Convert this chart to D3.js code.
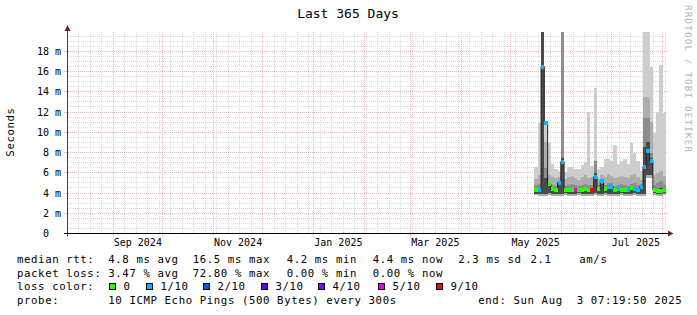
<!DOCTYPE html>
<html>
<head>
<meta charset="utf-8">
<script src="https://cdn.jsdelivr.net/npm/d3@7"></script>
<style>
  html, body { margin: 0; padding: 0; background: #fff; }
  svg { display: block; }
  text { font-family: "DejaVu Sans Mono", monospace; fill: #000; }
</style>
</head>
<body>
<svg id="chart" width="697" height="315"></svg>
<script>
// Time range of the graph (last 365 days).
var endTime = new Date(Date.UTC(2025, 7, 3, 7, 19, 50));
var startTime = d3.utcDay.offset(endTime, -365);

// Smoke data, one value per 2-day bin starting 15 May 2025 (ms).
var firstBin = new Date(Date.UTC(2025, 4, 15, 7, 19, 50));
var medianMs = [4.3, 4.3, 16.5, 10.9, 4.9, 4.4, 4.3, 5.0, 7.1, 4.3,
                4.3, 4.3, 4.3, 4.3, 4.3, 4.4, 4.3, 4.3, 5.6, 4.4,
                5.2, 4.4, 4.6, 4.6, 4.3, 4.4, 4.3, 4.3, 4.3, 4.5,
                4.4, 4.3, 4.6, 6.6, 8.2, 7.2, 4.3, 4.2, 4.2, 4.3];
var lossCount = [0, 1, 1, 1, 0, 0, 0, 1, 1, 0,
                 0, 0, 5, 0, 0, 0, 0, 9, 1, 0,
                 1, 0, 1, 1, 0, 1, 0, 0, 1, 0,
                 1, 1, 1, 1, 1, 1, 0, 0, 0, 0];
var smokeHi1 = [6.6, 10.9, 20, 11, 8.9, 6.9, 6.4, 6.2, 20, 6.1,
                6.6, 6.6, 6.4, 6.4, 6.8, 7.1, 12, 6.7, 14.4, 6.4,
                6.6, 7.4, 7.4, 7.2, 8.7, 6.9, 7.2, 7.4, 6.9, 8.9,
                8.0, 7.2, 6.2, 20, 20, 16.5, 9.9, 12, 16.6, 11.9];
var smokeHi2 = [5.4, 5.8, 20, 9, 5.8, 5.6, 5.5, 5.6, 20, 5.4,
                5.6, 5.7, 5.5, 5.3, 5.6, 5.8, 5.5, 5.6, 7.0, 5.4,
                5.8, 5.6, 5.9, 5.7, 5.5, 5.6, 5.7, 5.6, 5.5, 5.8,
                5.9, 5.6, 5.3, 13.5, 13.5, 11, 5.8, 6.0, 6.2, 5.7];
var smokeHi3 = [4.8, 4.9, 20, 6.5, 5.1, 4.8, 4.7, 5.1, 20, 4.7,
                4.8, 4.9, 4.8, 4.7, 4.8, 4.9, 4.8, 4.8, 7.2, 4.8,
                5.2, 4.8, 5.0, 5.0, 4.7, 4.8, 4.9, 4.8, 4.7, 4.9,
                5.0, 4.8, 4.9, 11.4, 11.4, 8.0, 4.8, 5.0, 5.2, 4.8];
var smokeHi4 = [4.45, 4.45, 20, 5.5, 4.9, 4.5, 4.45, 4.9, 7.5, 4.45,
                4.45, 4.45, 4.45, 4.4, 4.45, 4.55, 4.45, 4.45, 6.0, 4.5,
                4.9, 4.5, 4.7, 4.7, 4.45, 4.5, 4.45, 4.45, 4.45, 4.6,
                4.55, 4.45, 4.7, 8.5, 9.0, 7.5, 4.4, 4.4, 4.45, 4.4];
var smokeLo1 = [3.8, 3.75, 3.75, 3.75, 3.8, 3.75, 3.75, 3.75, 3.75, 3.8,
                3.75, 3.75, 3.75, 3.8, 3.75, 3.75, 3.75, 3.75, 3.8, 3.75,
                3.75, 3.8, 3.75, 3.75, 3.75, 3.75, 3.8, 3.75, 3.75, 3.75,
                3.8, 3.75, 3.75, 3.75, 5.5, 5.5, 3.8, 3.75, 3.75, 3.8];
var smokeLo2 = [3.95, 3.95, 3.95, 3.95, 4.0, 3.95, 3.95, 3.95, 3.95, 4.0,
                3.95, 3.95, 3.95, 4.0, 3.95, 3.95, 3.95, 3.95, 4.0, 3.95,
                3.95, 4.0, 3.95, 3.95, 3.95, 3.95, 4.0, 3.95, 3.95, 3.95,
                4.0, 3.95, 3.95, 3.95, 5.8, 5.8, 4.0, 3.95, 3.95, 4.0];

// Axis ticks.
var yMajorTicks = [0, 2, 4, 6, 8, 10, 12, 14, 16, 18];
var yTickLabels = ["0  ", "2 m", "4 m", "6 m", "8 m", "10 m", "12 m", "14 m", "16 m", "18 m"];
var monthLabels = ["Sep 2024", "Nov 2024", "Jan 2025", "Mar 2025", "May 2025", "Jul 2025"];

// Legend.
var rttStats = ["4.8 ms avg", "16.5 ms max", "4.2 ms min", "4.4 ms now", "2.3 ms sd", "2.1", "am/s"];
var lossStats = ["3.47 % avg", "72.80 % max", "0.00 % min", "0.00 % now"];
var lossSteps = [0, 1, 2, 3, 4, 5, 9];
var lossLabels = ["0", "1/10", "2/10", "3/10", "4/10", "5/10", "9/10"];
var lossColors = ["#26ff00", "#00b8ff", "#0059ff", "#5e00ff", "#7e00ff", "#dd00ff", "#ff0000"];
var probeText = "10 ICMP Echo Pings (500 Bytes) every 300s";
var endText = "end: Sun Aug  3 07:19:50 2025";

(function () {
  var svg = d3.select("#chart");
  var left = 66, right = 666, top = 32, bottom = 233.5;

  var x = d3.scaleUtc().domain([startTime, endTime]).range([left, right]);
  var y = d3.scaleLinear().domain([0, 19.91]).range([bottom, top]);
  var crisp = function (v) { return Math.floor(v) + 0.5; };

  // Title and side labels.
  svg.append("text").attr("x", 348).attr("y", 18).attr("text-anchor", "middle")
    .style("font-size", "13px").text("Last 365 Days");
  svg.append("text").attr("transform", "translate(14,132) rotate(-90)")
    .attr("text-anchor", "middle").style("font-size", "10.7px").style("letter-spacing", "0.6px")
    .text("Seconds");
  svg.append("text").attr("transform", "translate(685,5) rotate(90)")
    .style("font-size", "9.2px").style("letter-spacing", "1.2px").style("fill", "#b4b4b4")
    .text("RRDTOOL / TOBI OETIKER");

  // Grid.
  var grid = svg.append("g");
  var minorY = d3.range(0.5, 19.9, 0.5).filter(function (v) { return v % 2 !== 0; });
  grid.selectAll(".hminor").data(minorY).enter().append("line")
    .attr("x1", 67).attr("x2", right + 1)
    .attr("y1", d => crisp(y(d))).attr("y2", d => crisp(y(d)))
    .attr("stroke", "#dcdcdc").attr("stroke-dasharray", "1,1");
  var weeks = x.ticks(d3.utcSunday);
  grid.selectAll(".vminor").data(weeks).enter().append("line")
    .attr("x1", d => crisp(x(d))).attr("x2", d => crisp(x(d)))
    .attr("y1", top).attr("y2", bottom)
    .attr("stroke", "#dcdcdc").attr("stroke-dasharray", "1,1");
  grid.selectAll(".hmajor").data(yMajorTicks.slice(1)).enter().append("line")
    .attr("x1", 64).attr("x2", right + 1)
    .attr("y1", d => crisp(y(d))).attr("y2", d => crisp(y(d)))
    .attr("stroke", "#eeb8b8").attr("stroke-dasharray", "1,1");
  var months = x.ticks(d3.utcMonth);
  grid.selectAll(".vmajor").data(months).enter().append("line")
    .attr("x1", d => crisp(x(d))).attr("x2", d => crisp(x(d)))
    .attr("y1", top).attr("y2", bottom + 3)
    .attr("stroke", "#eeb8b8").attr("stroke-dasharray", "1,1");

  // Build bins.
  var bins = medianMs.map(function (m, i) {
    return {
      t: d3.utcDay.offset(firstBin, 2 * i), t2: d3.utcDay.offset(firstBin, 2 * i + 2),
      med: m, loss: lossCount[i],
      hi: [smokeHi1[i], smokeHi2[i], smokeHi3[i], smokeHi4[i]],
      lo: [smokeLo1[i], smokeLo1[i], smokeLo2[i], smokeLo2[i]]
    };
  });
  var last = bins[bins.length - 1];
  var stepData = bins.concat([Object.assign({}, last, { t: endTime })]);

  svg.append("clipPath").attr("id", "plotclip").append("rect")
    .attr("x", left).attr("y", top).attr("width", right - left).attr("height", bottom - top);
  var plot = svg.append("g").attr("clip-path", "url(#plotclip)");

  var smokeColors = ["#cdcdcd", "#adadad", "#8c8c8c", "#4a4a4a"];
  smokeColors.forEach(function (c, k) {
    var area = d3.area().curve(d3.curveStepAfter)
      .x(d => x(d.t)).y0(d => y(d.lo[k])).y1(d => y(d.hi[k]));
    plot.append("path").datum(stepData).attr("d", area)
      .attr("fill", c).attr("shape-rendering", "crispEdges");
  });

  var medLine = d3.line().curve(d3.curveStepAfter).x(d => x(d.t)).y(d => y(d.med));
  plot.append("path").datum(stepData).attr("d", medLine)
    .attr("fill", "none").attr("stroke", "#202020").attr("stroke-width", 1);

  function lossColor(l) {
    for (var k = 0; k < lossSteps.length; k++) if (l <= lossSteps[k]) return lossColors[k];
    return lossColors[lossColors.length - 1];
  }
  plot.selectAll(".med").data(bins).enter().append("rect")
    .attr("x", d => x(d.t)).attr("width", d => x(d.t2) - x(d.t))
    .attr("y", d => y(d.med) - 2).attr("height", 4)
    .attr("fill", d => lossColor(d.loss)).attr("shape-rendering", "crispEdges");

  // Axes.
  svg.append("line").attr("x1", 67.5).attr("x2", 67.5).attr("y1", bottom + 3).attr("y2", 30)
    .attr("stroke", "#404040");
  svg.append("line").attr("x1", 64).attr("x2", 668).attr("y1", bottom).attr("y2", bottom)
    .attr("stroke", "#000");
  svg.append("path").attr("d", "M668,230.5L673.5,233.5L668,236.5Z").attr("fill", "#7f1f1f");
  svg.append("path").attr("d", "M64.5,31L67.5,25L70.5,31Z").attr("fill", "#7f1f1f");

  svg.selectAll(".ylab").data(yMajorTicks).enter().append("text")
    .attr("xml:space", "preserve")
    .attr("x", 61).attr("y", d => y(d)).attr("dy", "0.36em").attr("text-anchor", "end")
    .style("font-size", "10px")
    .text((d, i) => yTickLabels[i]);

  var labelMonths = months.filter(d => [8, 10, 0, 2, 4, 6].indexOf(d.getUTCMonth()) >= 0);
  svg.selectAll(".xlab").data(labelMonths).enter().append("text")
    .attr("x", d => x(d3.utcDay.offset(d, 15))).attr("y", 245.5).attr("text-anchor", "middle")
    .style("font-size", "10px")
    .text((d, i) => monthLabels[i]);

  // Legend.
  var leg = svg.append("g").style("font-size", "10.7px").style("letter-spacing", "0.6px");
  var rows = [262.6, 276.5, 290.4, 304.3];
  var put = function (tx, xx, yy) {
    leg.append("text").attr("xml:space", "preserve").attr("x", xx).attr("y", yy).text(tx);
  };
  put("median rtt:", 17, rows[0]);
  [108.3, 192.7, 286.7, 372.7, 458.3, 530.5, 579.3].forEach((xx, i) => put(rttStats[i], xx, rows[0]));
  put("packet loss:", 17, rows[1]);
  [108.3, 192.7, 286.7, 372.7].forEach((xx, i) => put(lossStats[i], xx, rows[1]));
  put("loss color:", 17, rows[2]);
  [109.5, 146.5, 203.5, 261.5, 318.5, 378.5, 436.5].forEach(function (bx, i) {
    leg.append("rect").attr("x", bx).attr("y", 283.5).attr("width", 6).attr("height", 6)
      .attr("fill", lossColors[i]).attr("stroke", "#000");
    put(lossLabels[i], bx + 14, rows[2]);
  });
  put("probe:", 17, rows[3]);
  put(probeText, 108.3, rows[3]);
  put(endText, 478.3, rows[3]);
})();
</script>
</body>
</html>
